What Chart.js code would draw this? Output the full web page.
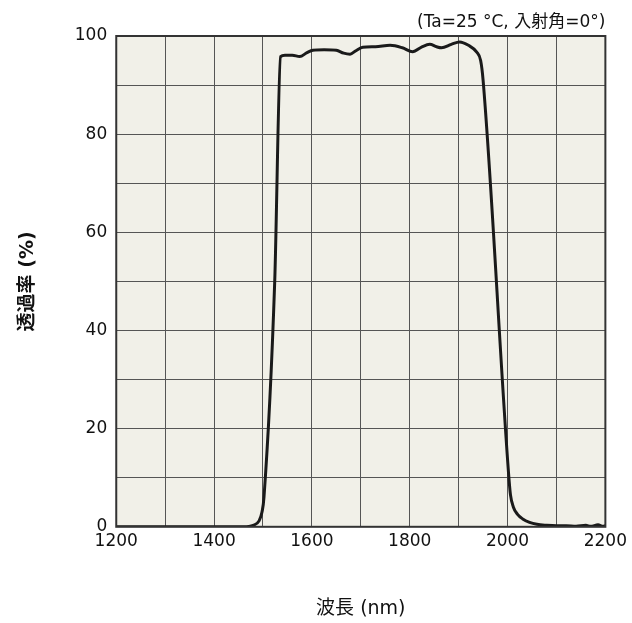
<!DOCTYPE html>
<html>
<head>
<meta charset="utf-8">
<script src="https://cdn.jsdelivr.net/npm/chart.js@4"></script>
<style>
	html, body { margin: 0; padding: 0; background: #fff; }
	#wrap { width: 632px; height: 623px; }
</style>
</head>
<body>
<div id="wrap"><canvas id="c"></canvas></div>
<script>
const wavelength = [
	1200, 1300, 1400, 1460, 1480, 1492, 1498, 1502, 1524, 1536,
	1545, 1560, 1575, 1590, 1602, 1625, 1650, 1665, 1678, 1690, 1704, 1730, 1760, 1785, 1806,
	1825, 1841, 1855, 1865, 1885, 1902, 1920, 1937, 1945, 1950, 2002, 2006,
	2012, 2020, 2031, 2045, 2060, 2080, 2100, 2120, 2140, 2160, 2170, 2185, 2195, 2200
];
const transmittance = [
	0, 0, 0, 0, 0.3, 1.2, 3, 6, 50, 95.8,
	96.1, 96.1, 95.8, 96.6, 97.1, 97.2, 97.1, 96.5, 96.3, 97, 97.7, 97.8, 98.1, 97.6, 96.8,
	97.8, 98.3, 97.8, 97.6, 98.3, 98.8, 98.1, 96.7, 95, 91, 11, 6.5,
	4, 2.6, 1.6, 0.9, 0.5, 0.3, 0.2, 0.2, 0.1, 0.3, 0.1, 0.4, 0.1, 0.2
];

const xTitle = "波長 (nm)";
const yTitle = "透過率 (%)";
const note = "(Ta=25 °C, 入射角=0°)";

Chart.defaults.font.family = '"DejaVu Sans", "Noto Sans CJK JP", sans-serif';
Chart.defaults.color = "#111";

const plotFrame = {
	id: "plotFrame",
	beforeDraw(chart) {
		const { ctx, chartArea: a } = chart;
		ctx.save();
		ctx.fillStyle = "#f1f0e8";
		ctx.fillRect(a.left, a.top, a.right - a.left, a.bottom - a.top);
		ctx.restore();
	},
	afterDatasetsDraw(chart) {
		const { ctx, chartArea: a } = chart;
		ctx.save();
		ctx.strokeStyle = "#333";
		ctx.lineWidth = 2;
		ctx.strokeRect(a.left, a.top, a.right - a.left, a.bottom - a.top);
		ctx.fillStyle = "#111";
		ctx.font = '17px "DejaVu Sans", "Noto Sans CJK JP", sans-serif';
		ctx.textAlign = "right";
		ctx.textBaseline = "bottom";
		ctx.fillText(note, a.right, a.top - 5);
		ctx.restore();
	}
};

new Chart(document.getElementById("c"), {
	type: "line",
	data: {
		datasets: [{
			data: wavelength.map((w, i) => ({ x: w, y: transmittance[i] })),
			borderColor: "#1a1a1a",
			borderWidth: 3,
			pointRadius: 0,
			cubicInterpolationMode: "monotone",
			fill: false
		}]
	},
	options: {
		responsive: true,
		maintainAspectRatio: false,
		animation: false,
		layout: {
			padding: { top: 36, left: 17, right: 6, bottom: 3 }
		},
		plugins: {
			legend: { display: false },
			tooltip: { enabled: false }
		},
		scales: {
			x: {
				type: "linear",
				min: 1200,
				max: 2200,
				grid: { color: "#555", lineWidth: 1, drawTicks: false },
				border: { display: false },
				ticks: {
					stepSize: 100,
					autoSkip: false,
					maxRotation: 0,
					padding: 5,
					font: { size: 17 },
					callback: value => value % 200 === 0 ? value : ""
				},
				title: {
					display: true,
					text: xTitle,
					font: { size: 19 },
					padding: { top: 40, bottom: 0 }
				}
			},
			y: {
				min: 0,
				max: 100,
				grid: { color: "#555", lineWidth: 1, drawTicks: false },
				border: { display: false },
				ticks: {
					stepSize: 10,
					autoSkip: false,
					padding: 9,
					font: { size: 17 },
					callback: value => value % 20 === 0 ? value : ""
				},
				title: {
					display: true,
					text: yTitle,
					font: { size: 19, weight: "bold" },
					padding: { top: 0, bottom: 26 }
				}
			}
		}
	},
	plugins: [plotFrame]
});
</script>
</body>
</html>
